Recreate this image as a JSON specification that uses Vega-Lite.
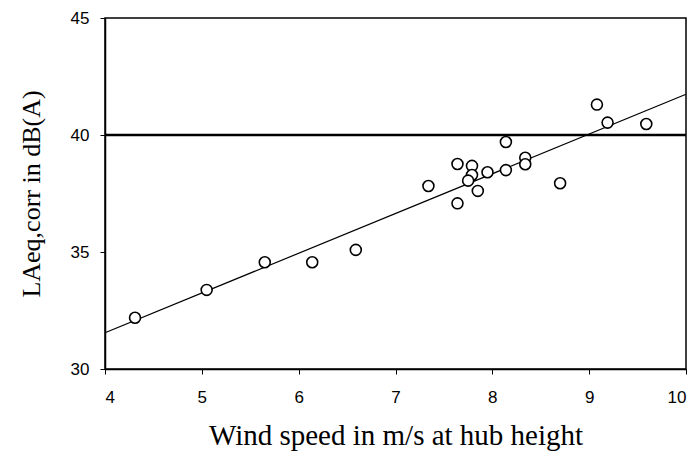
{
  "$schema": "https://vega.github.io/schema/vega-lite/v6.json",
  "autosize": "none",
  "width": 581,
  "height": 351,
  "padding": {"left": 105, "top": 18, "right": 14, "bottom": 87},
  "background": "white",
  "config": {
    "view": {"stroke": "black", "strokeWidth": 1.5},
    "axis": {
      "grid": false,
      "domainColor": "black",
      "domainWidth": 1.5,
      "tickColor": "black",
      "tickWidth": 1,
      "tickSize": 5,
      "labelFont": "Liberation Sans",
      "labelFontSize": 17,
      "labelColor": "black",
      "titleFont": "Liberation Serif",
      "titleFontWeight": "normal",
      "titleColor": "black"
    }
  },
  "datasets": {
    "points": [
      {"wind": 4.31, "level": 32.19},
      {"wind": 5.05, "level": 33.38},
      {"wind": 5.65, "level": 34.56},
      {"wind": 6.14, "level": 34.56},
      {"wind": 6.59, "level": 35.09},
      {"wind": 7.34, "level": 37.82},
      {"wind": 7.64, "level": 38.76},
      {"wind": 7.79, "level": 38.68},
      {"wind": 7.79, "level": 38.29},
      {"wind": 7.75, "level": 38.05},
      {"wind": 7.95, "level": 38.41},
      {"wind": 7.85, "level": 37.61},
      {"wind": 7.64, "level": 37.08},
      {"wind": 8.14, "level": 39.70},
      {"wind": 8.14, "level": 38.50},
      {"wind": 8.34, "level": 39.03},
      {"wind": 8.34, "level": 38.75},
      {"wind": 8.70, "level": 37.94},
      {"wind": 9.08, "level": 41.30},
      {"wind": 9.19, "level": 40.53},
      {"wind": 9.59, "level": 40.47}
    ],
    "fit": [
      {"wind": 4, "level": 31.55},
      {"wind": 10, "level": 41.74}
    ],
    "limit": [{"level": 40}]
  },
  "layer": [
    {
      "data": {"name": "limit"},
      "mark": {"type": "rule", "color": "black", "strokeWidth": 2.5},
      "encoding": {"y": {"field": "level", "type": "quantitative"}}
    },
    {
      "data": {"name": "fit"},
      "mark": {"type": "line", "color": "black", "strokeWidth": 1.2},
      "encoding": {
        "x": {"field": "wind", "type": "quantitative"},
        "y": {"field": "level", "type": "quantitative"}
      }
    },
    {
      "data": {"name": "points"},
      "mark": {"type": "point", "shape": "circle", "filled": false, "color": "black", "fill": "white", "fillOpacity": 1, "strokeWidth": 1.6, "size": 120, "opacity": 1},
      "encoding": {
        "x": {
          "field": "wind", "type": "quantitative",
          "scale": {"domain": [4, 10], "nice": false, "zero": false},
          "axis": {"values": [4, 5, 6, 7, 8, 9, 10], "format": "d", "title": "Wind speed in m/s at hub height", "titleFontSize": 29, "labelPadding": 15, "titlePadding": 16}
        },
        "y": {
          "field": "level", "type": "quantitative",
          "scale": {"domain": [30, 45], "nice": false, "zero": false},
          "axis": {"values": [30, 35, 40, 45], "format": "d", "title": "LAeq,corr in dB(A)", "titleFontSize": 26, "labelPadding": 11, "titlePadding": 26}
        }
      }
    }
  ]
}
